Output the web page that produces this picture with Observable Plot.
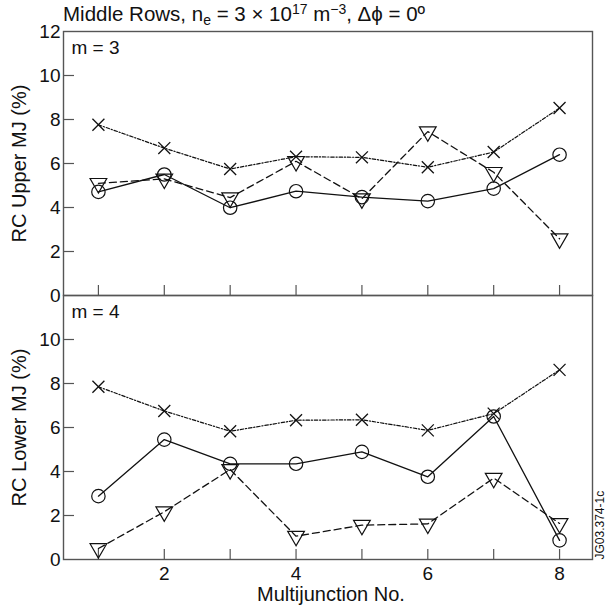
<!DOCTYPE html>
<html>
<head>
<meta charset="utf-8">
<script src="https://cdn.jsdelivr.net/npm/d3@7"></script>
<script src="https://cdn.jsdelivr.net/npm/@observablehq/plot@0.6"></script>
<style>
  html, body { margin: 0; padding: 0; background: white; }
  #wrap { position: relative; width: 607px; height: 615px; font-family: "Liberation Sans", Arial, sans-serif; color: #111; }
  #title { position: absolute; left: 63px; top: 4px; font-size: 20.5px; line-height: 20px; white-space: nowrap; }
  #title .sub { position: relative; top: 4px; font-size: 14px; }
  #title .sup { position: relative; top: -7px; font-size: 14px; }
  .panel { position: absolute; left: 0; }
  .panel svg { overflow: visible; }
</style>
</head>
<body>
<div id="wrap">
  <div id="title">Middle Rows, n<span class="sub">e</span> = 3 × 10<span class="sup">17</span> m<span class="sup">−3</span>, Δϕ = 0º</div>
  <div id="top" class="panel" style="top:0px"></div>
  <div id="bottom" class="panel" style="top:295px"></div>
</div>
<script>
// Multijunction numbers
const mj = [1, 2, 3, 4, 5, 6, 7, 8];

// Upper MJ (m = 3)
const upperCircle   = [4.71, 5.50, 3.99, 4.74, 4.47, 4.29, 4.86, 6.40];
const upperCross    = [7.76, 6.70, 5.75, 6.31, 6.28, 5.83, 6.52, 8.52];
const upperTriangle = [5.10, 5.30, 4.45, 6.10, 4.40, 7.45, 5.60, 2.58];

// Lower MJ (m = 4)
const lowerCircle   = [2.88, 5.45, 4.35, 4.35, 4.89, 3.76, 6.50, 0.87];
const lowerCross    = [7.85, 6.75, 5.83, 6.33, 6.35, 5.87, 6.63, 8.62];
const lowerTriangle = [0.50, 2.17, 4.09, 1.06, 1.56, 1.62, 3.70, 1.64];

// Tick labels
const xTickLabels = [2, 4, 6, 8];
const yInnerTicks = [2, 4, 6, 8, 10];
const upperYTicks = [0, 2, 4, 6, 8, 10, 12];
const lowerYTicks = [0, 2, 4, 6, 8, 10];

const upperLabel = "RC Upper MJ (%)";
const lowerLabel = "RC Lower MJ (%)";
const upperPanel = "m = 3";
const lowerPanel = "m = 4";
const xLabel = "Multijunction No.";
const code = "JG03.374-1c";

const INK = "#111";
const font = '"Liberation Sans", Arial, sans-serif';

function seriesMarks(circ, cross, tri) {
  return [
    Plot.line(tri,   {x: mj, y: tri,   stroke: INK, strokeWidth: 1.3, strokeDasharray: "7,4"}),
    Plot.line(cross, {x: mj, y: cross, stroke: INK, strokeWidth: 1.2, strokeDasharray: "3.5,1.8,1.2,1.8"}),
    Plot.line(circ,  {x: mj, y: circ,  stroke: INK, strokeWidth: 1.3}),
    Plot.dot(tri,   {x: mj, y: tri,   symbol: "triangle", rotate: 180, r: 6.2, stroke: INK, strokeWidth: 1.2, fill: "none"}),
    Plot.dot(circ,  {x: mj, y: circ,  symbol: "circle", r: 6.7, stroke: INK, strokeWidth: 1.2, fill: "none"}),
    Plot.dot(cross, {x: mj, y: cross, symbol: "times", r: 5.5, stroke: INK, strokeWidth: 1.3})
  ];
}

function panel({circ, cross, tri, yTicks, yLabel, tag, isBottom}) {
  const marks = [
    Plot.frame({stroke: "#555", strokeWidth: 1.4}),
    Plot.axisX({ticks: mj, tickSize: -10, tickFormat: () => "", label: null, stroke: "#555", strokeWidth: 1.2}),
    Plot.axisY({ticks: yInnerTicks, tickSize: -11, tickFormat: () => "", label: null, stroke: "#555", strokeWidth: 1.2}),
    Plot.axisY({ticks: yTicks, tickSize: 0, tickPadding: 3, label: null, fill: INK}),
    Plot.text([yLabel], {frameAnchor: "left", textAnchor: "middle", rotate: -90, dx: -44, lineAnchor: "middle", fontSize: 20, fill: INK}),
    Plot.text([tag], {frameAnchor: "top-left", textAnchor: "start", lineAnchor: "top", dx: 8, dy: 9, fontSize: 19, fill: INK}),
    ...seriesMarks(circ, cross, tri)
  ];
  if (isBottom) {
    marks.push(
      Plot.axisX({ticks: xTickLabels, tickSize: 0, tickPadding: 7, label: null, fill: INK}),
      Plot.text([xLabel], {frameAnchor: "bottom", textAnchor: "middle", lineAnchor: "bottom", dx: 3, dy: 41, fontSize: 20, fill: INK}),
      Plot.text([code], {frameAnchor: "bottom-right", rotate: -90, textAnchor: "start", lineAnchor: "middle", dx: 8, fontSize: 12, fill: INK})
    );
  }
  return Plot.plot({
    width: 607,
    height: isBottom ? 320 : 295,
    marginTop: isBottom ? 0 : 31,
    marginBottom: isBottom ? 56 : 0,
    marginLeft: 63,
    marginRight: 15,
    x: {domain: [0.47, 8.5], label: null},
    y: {domain: [0, 12], label: null},
    style: {fontFamily: font, fontSize: "19px", background: "transparent", overflow: "visible", color: INK},
    marks
  });
}

document.getElementById("top").appendChild(panel({
  circ: upperCircle, cross: upperCross, tri: upperTriangle,
  yTicks: upperYTicks, yLabel: upperLabel, tag: upperPanel, isBottom: false
}));
document.getElementById("bottom").appendChild(panel({
  circ: lowerCircle, cross: lowerCross, tri: lowerTriangle,
  yTicks: lowerYTicks, yLabel: lowerLabel, tag: lowerPanel, isBottom: true
}));
</script>
</body>
</html>
